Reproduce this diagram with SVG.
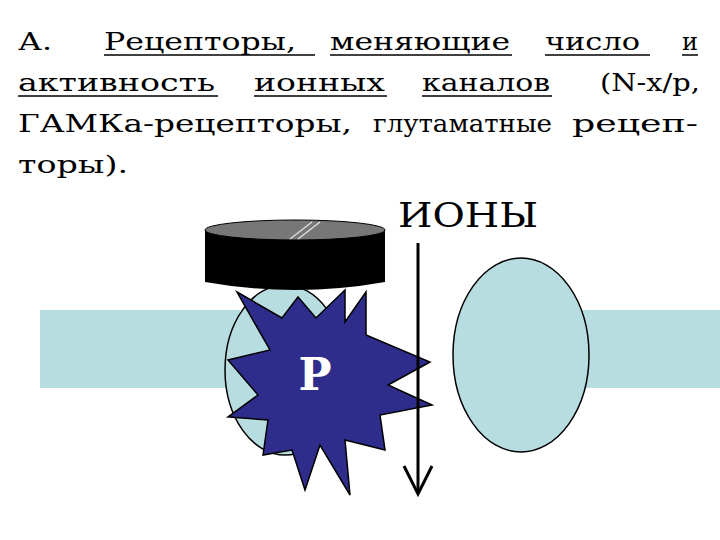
<svg xmlns="http://www.w3.org/2000/svg" width="720" height="540" viewBox="0 0 720 540">
<style>
text{font-family:"DejaVu Serif","Liberation Serif",serif}
.t{font-size:25px;fill:#000}
.m{fill:#b7dde1}
.ul{stroke:#000;stroke-width:1.5}
</style>
<g id="title">
<text class="t" x="18" y="50" textLength="34" lengthAdjust="spacingAndGlyphs">А.</text>
<text class="t" x="104" y="50" textLength="192" lengthAdjust="spacingAndGlyphs">Рецепторы,</text>
<text class="t" x="330" y="50" textLength="180" lengthAdjust="spacingAndGlyphs">меняющие</text>
<text class="t" x="545" y="50" textLength="95" lengthAdjust="spacingAndGlyphs">число</text>
<text class="t" x="682" y="50" textLength="16" lengthAdjust="spacingAndGlyphs">и</text>
<text class="t" x="18" y="91" textLength="197" lengthAdjust="spacingAndGlyphs">активность</text>
<text class="t" x="254" y="91" textLength="131" lengthAdjust="spacingAndGlyphs">ионных</text>
<text class="t" x="422" y="91" textLength="128" lengthAdjust="spacingAndGlyphs">каналов</text>
<text class="t" x="600" y="91" textLength="100" lengthAdjust="spacingAndGlyphs">(N-х/р,</text>
<text class="t" x="18" y="132" textLength="334" lengthAdjust="spacingAndGlyphs">ГАМКа-рецепторы,</text>
<text class="t" x="373" y="132" textLength="179" lengthAdjust="spacingAndGlyphs">глутаматные</text>
<text class="t" x="572" y="132" textLength="126" lengthAdjust="spacingAndGlyphs">рецеп-</text>
<text class="t" x="18" y="173" textLength="110" lengthAdjust="spacingAndGlyphs">торы).</text>
<line class="ul" x1="104" y1="55" x2="315" y2="55"/>
<line class="ul" x1="330" y1="55" x2="512" y2="55"/>
<line class="ul" x1="545" y1="55" x2="650" y2="55"/>
<line class="ul" x1="682" y1="55" x2="698" y2="55"/>
<line class="ul" x1="18" y1="96" x2="218" y2="96"/>
<line class="ul" x1="254" y1="96" x2="387" y2="96"/>
<line class="ul" x1="422" y1="96" x2="552" y2="96"/>
</g>
<g id="membrane">
<rect class="m" x="40" y="310" width="200" height="78"/>
<rect class="m" x="580" y="310" width="140" height="78"/>
<ellipse class="m" cx="285" cy="370" rx="60" ry="85" stroke="#000" stroke-width="1.5"/>
<ellipse class="m" cx="521" cy="355" rx="68" ry="97" stroke="#000" stroke-width="1.5"/>
</g>
<g id="receptor">
<path d="M205,230 L205,282 Q295,298 385,282 L385,230 Z" fill="#000"/>
<ellipse cx="295" cy="230" rx="90" ry="10" fill="#777" stroke="#000" stroke-width="1"/>
<line x1="290" y1="239" x2="312" y2="222" stroke="#ddd" stroke-width="1.5"/>
<line x1="298" y1="239" x2="320" y2="222" stroke="#ddd" stroke-width="1.5"/>
</g>
<g id="star">
<polygon points="237,292 282,318 298,297 316,318 345,290 345,322 366,292 366,335 430,362 388,385 432,405 380,415 385,450 345,440 350,495 320,445 305,490 292,450 263,455 268,420 228,417 258,395 228,360 270,350" fill="#2e2d8c" stroke="#000" stroke-width="1.5"/>
<text x="315" y="390" text-anchor="middle" style="font-size:44px;font-weight:bold;fill:#fff">Р</text>
</g>
<g id="connectors">
<line x1="418" y1="243" x2="418" y2="492" stroke="#000" stroke-width="3"/>
<path d="M404,466 L418,494 L432,466" fill="none" stroke="#000" stroke-width="3"/>
</g>
<text x="398" y="227" textLength="140" lengthAdjust="spacingAndGlyphs" style="font-size:34px;fill:#000">ИОНЫ</text>
</svg>
